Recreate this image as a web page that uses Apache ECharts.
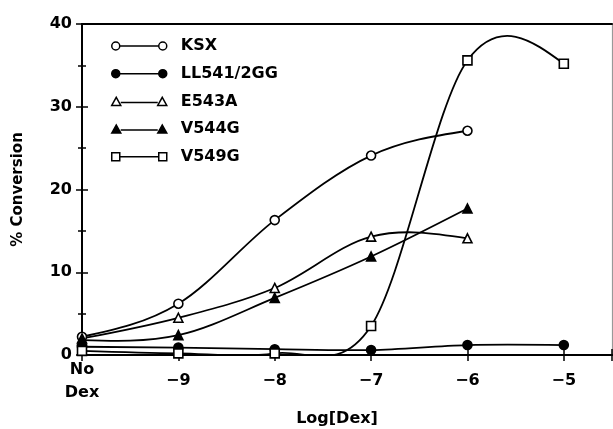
<!DOCTYPE html>
<html>
<head>
<meta charset="utf-8">
<script src="https://cdn.jsdelivr.net/npm/echarts@6/dist/echarts.min.js"></script>
<style>
html,body{margin:0;padding:0;background:#fff;}
#chart{width:613px;height:429px;}
</style>
</head>
<body>
<div id="chart"></div>
<script>
// x positions: -10 stands for "No Dex"
const xValues = [-10, -9, -8, -7, -6, -5];
const xTickLabels = ['No\nDex', '\u22129', '\u22128', '\u22127', '\u22126', '\u22125'];
const seriesNames = ['KSX', 'LL541/2GG', 'E543A', 'V544G', 'V549G'];
const ksx   = [2.2, 6.2, 16.3, 24.1, 27.1, null];
const ll541 = [1.0, 0.9, 0.7, 0.6, 1.2, 1.2];
const e543a = [2.0, 4.5, 8.1, 14.3, 14.1, null];
const v544g = [1.8, 2.4, 6.9, 11.9, 17.7, null];
const v549g = [0.5, 0.2, 0.2, 3.5, 35.6, 35.2];
const yTicks = [0, 10, 20, 30, 40];

const FONT = 'DejaVu Sans';
const pairs = arr => xValues.map((x, i) => [x, arr[i]]).filter(p => p[1] !== null);

// cubic spline-like slopes (Catmull-Rom interior, natural ends)
function slopes(pts) {
  const n = pts.length, m = new Array(n).fill(0);
  if (n < 2) return m;
  if (n === 2) { const s = (pts[1][1] - pts[0][1]) / (pts[1][0] - pts[0][0]); return [s, s]; }
  for (let i = 1; i < n - 1; i++) m[i] = (pts[i + 1][1] - pts[i - 1][1]) / (pts[i + 1][0] - pts[i - 1][0]);
  const s0 = (pts[1][1] - pts[0][1]) / (pts[1][0] - pts[0][0]);
  const sn = (pts[n - 1][1] - pts[n - 2][1]) / (pts[n - 1][0] - pts[n - 2][0]);
  m[0] = (3 * s0 - m[1]) / 2;
  m[n - 1] = (3 * sn - m[n - 2]) / 2;
  return m;
}

const circleIcon = 'path://M0 4 A4 4 0 1 1 8 4 A4 4 0 1 1 0 4 Z M8 4 L47 4 M47 4 A4 4 0 1 1 55 4 A4 4 0 1 1 47 4 Z';
const triIcon = 'path://M0 8 L4.5 0 L9 8 Z M9 5 L46 5 M46 8 L50.5 0 L55 8 Z';
const rectIcon = 'path://M0 0 L8 0 L8 8 L0 8 Z M8 4 L47 4 M47 0 L55 0 L55 8 L47 8 Z';

const styles = [
  {data: ksx,   symbol: 'circle',   fill: '#fff', icon: circleIcon, size: 9},
  {data: ll541, symbol: 'circle',   fill: '#000', icon: circleIcon, size: 9},
  {data: e543a, symbol: 'triangle', fill: '#fff', icon: triIcon, size: 9},
  {data: v544g, symbol: 'triangle', fill: '#000', icon: triIcon, size: 9},
  {data: v549g, symbol: 'rect',     fill: '#fff', icon: rectIcon, size: 9}
];

const curveSeries = seriesNames.map((n, si) => {
  const pts = pairs(styles[si].data);
  const m = slopes(pts);
  return {
    name: n, type: 'custom', clip: true, z: 2,
    xAxisIndex: 0, yAxisIndex: 0,
    data: pts, encode: {x: 0, y: 1},
    renderItem: (params, api) => {
      const i = params.dataIndex;
      if (i === 0) return null;
      const [x0, y0] = pts[i - 1], [x1, y1] = pts[i];
      const h = x1 - x0;
      const P0 = api.coord([x0, y0]);
      const C1 = api.coord([x0 + h / 3, y0 + m[i - 1] * h / 3]);
      const C2 = api.coord([x1 - h / 3, y1 - m[i] * h / 3]);
      const P1 = api.coord([x1, y1]);
      return {
        type: 'bezierCurve',
        shape: {x1: P0[0], y1: P0[1], cpx1: C1[0], cpy1: C1[1], cpx2: C2[0], cpy2: C2[1], x2: P1[0], y2: P1[1]},
        style: {stroke: '#000', lineWidth: 1.8, fill: null}
      };
    }
  };
});

const markerSeries = seriesNames.map((n, si) => ({
  name: n, type: 'scatter', z: 5 + si,
  xAxisIndex: 0, yAxisIndex: 0,
  data: pairs(styles[si].data),
  symbol: styles[si].symbol, symbolSize: styles[si].size,
  itemStyle: {color: styles[si].fill, borderColor: '#000', borderWidth: 1.6, opacity: 1}
}));

const axisFont = {fontFamily: FONT, fontWeight: 'bold', fontSize: 16, color: '#000'};
const xLabelFormatter = v => {
  const i = xValues.indexOf(Math.round(v));
  return (i >= 0 && Math.abs(v - xValues[i]) < 1e-6) ? xTickLabels[i] : '';
};
const GRID = {left: 82, top: 24, right: 1, bottom: 74, show: false, containLabel: false, outerBoundsMode: 'none'};
const xRange = {type: 'value', min: -10, max: -4.5, interval: 1};
const yRange = {type: 'value', min: yTicks[0], max: yTicks[yTicks.length - 1], interval: 10};
const tickStyle = {color: '#000', width: 1.5};
const lineBlack = {show: true, onZero: false, lineStyle: {color: '#000', width: 2}};

const chart = echarts.init(document.getElementById('chart'), null, {renderer: 'canvas'});
chart.setOption({
  backgroundColor: '#fff',
  animation: false,
  grid: [Object.assign({}, GRID), Object.assign({}, GRID)],
  legend: {
    orient: 'vertical', left: 106, top: 33, itemGap: 11.7,
    itemWidth: 55, itemHeight: 8,
    textStyle: Object.assign({padding: [0, 0, 0, 9]}, axisFont),
    data: seriesNames.map((n, i) => ({
      name: n, icon: styles[i].icon,
      itemStyle: {color: styles[i].fill, borderColor: '#000', borderWidth: 1.5}
    }))
  },
  xAxis: [
    Object.assign({
      gridIndex: 0, position: 'bottom',
      name: 'Log[Dex]', nameLocation: 'middle', nameGap: 56,
      nameTextStyle: Object.assign({padding: [0, 20, 0, 0]}, axisFont),
      axisLine: lineBlack,
      axisTick: {show: true, length: 6, lineStyle: tickStyle},
      splitLine: {show: false},
      axisLabel: Object.assign({verticalAlign: 'middle', margin: 26, lineHeight: 23, formatter: xLabelFormatter}, axisFont)
    }, xRange),
    // frame top line
    Object.assign({
      gridIndex: 0, position: 'top',
      axisLine: lineBlack,
      axisTick: {show: false}, axisLabel: {show: false}, splitLine: {show: false}
    }, xRange),
    // same scale on the bottom edge of the second grid: ticks pointing into the plot
    Object.assign({
      gridIndex: 1, position: 'bottom',
      axisLine: lineBlack,
      axisTick: {show: true, inside: true, length: 6, lineStyle: tickStyle},
      axisLabel: {show: false}, splitLine: {show: false}
    }, xRange)
  ],
  yAxis: [
    Object.assign({
      gridIndex: 0, position: 'left',
      name: '% Conversion', nameLocation: 'middle', nameGap: 56, nameRotate: 90,
      nameTextStyle: {fontFamily: FONT, fontWeight: 'bold', fontSize: 15, color: '#000'},
      axisLine: lineBlack,
      axisTick: {show: true, length: 6, lineStyle: tickStyle},
      minorTick: {show: true, splitNumber: 2, length: 4, lineStyle: tickStyle},
      splitLine: {show: false},
      axisLabel: Object.assign({margin: 10}, axisFont)
    }, yRange),
    // frame right line
    Object.assign({
      gridIndex: 0, position: 'right',
      axisLine: {show: true, onZero: false, lineStyle: {color: '#999', width: 1.2}},
      axisTick: {show: false}, axisLabel: {show: false}, splitLine: {show: false}
    }, yRange),
    // same scale on the left edge of the second grid: ticks pointing into the plot
    Object.assign({
      gridIndex: 1, position: 'left',
      axisLine: lineBlack,
      axisTick: {show: true, inside: true, length: 6, lineStyle: tickStyle},
      minorTick: {show: true, splitNumber: 2, length: 4, lineStyle: tickStyle},
      axisLabel: {show: false}, splitLine: {show: false}
    }, yRange)
  ],
  series: curveSeries.concat(markerSeries)
});
</script>
</body>
</html>
